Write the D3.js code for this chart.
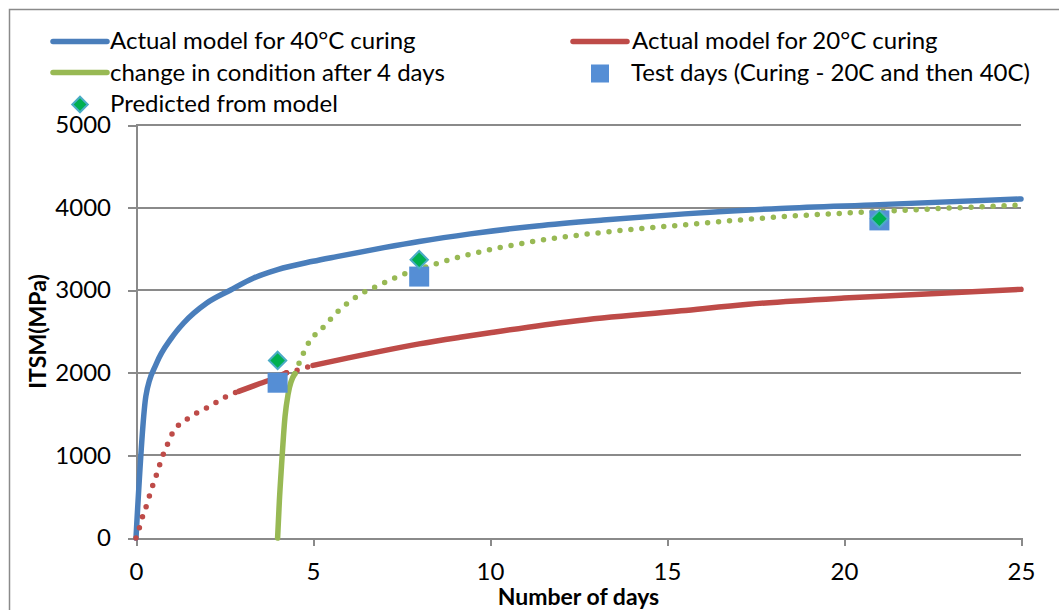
<!DOCTYPE html>
<html lang="en">
<head>
<meta charset="UTF-8">
<title>ITSM curing model</title>
<script src="https://cdn.jsdelivr.net/npm/d3@7"></script>
<style>
  body { margin: 0; background: #fff; }
  svg text { font-family: Lato, 'Open Sans', sans-serif; fill: #000; }
  .axis path, .axis line { stroke: #8a8a8a; stroke-width: 2; shape-rendering: crispEdges; }
  .axis text { font-size: 24px; }
  .grid line { stroke: #8a8a8a; stroke-width: 2; shape-rendering: crispEdges; }
</style>
</head>
<body>
<div id="chart"></div>
<script>
// model for 40°C curing [day, ITSM]
const blue40 = [
  [0, 0], [0.28, 1720], [0.58, 2115], [1, 2420], [1.34, 2600], [2, 2845],
  [2.66, 3000], [3.31, 3145], [4, 3250], [5, 3350], [5.67, 3407], [7, 3515],
  [8, 3590], [9.44, 3682], [11.32, 3778], [13.2, 3850], [15.5, 3924],
  [18.2, 3990], [21, 4036], [25, 4105]
];
// model for 20°C curing
const red20 = [
  [0, 0], [0.11, 145], [0.2, 280], [0.32, 420], [0.42, 570], [0.54, 715],
  [0.64, 850], [0.75, 990], [0.88, 1125], [1, 1245], [1.2, 1365], [1.5, 1455],
  [1.76, 1525], [2, 1575], [2.3, 1650], [2.6, 1725], [2.9, 1775], [3.5, 1870],
  [4, 1950], [4.25, 2000], [4.66, 2045], [5, 2090], [6, 2180], [6.9, 2260],
  [8, 2350], [9.15, 2430], [10, 2485], [12.35, 2625], [15.4, 2750],
  [17.3, 2830], [20, 2905], [21.6, 2940], [25, 3010]
];
// dotted and solid stretches of the 20°C line (days)
const redDotted = [[0, 2.9], [4.25, 5]];
const redSolid = [[2.9, 4.25], [5, 25]];
// change in condition after 4 days
const greenSolid = [
  [4, 0], [4.05, 450], [4.11, 870], [4.21, 1470], [4.3, 1750], [4.49, 1990]
];
const greenDotted = [
  [4.49, 1990], [4.63, 2140], [4.9, 2380], [5.24, 2530], [5.71, 2745],
  [6.28, 2935], [6.94, 3075], [7.65, 3208], [8.3, 3297], [9.44, 3435],
  [11.3, 3596], [13.2, 3701], [15.4, 3788], [18.2, 3888], [21.5, 3964],
  [24.7, 4025], [25, 4030]
];
const testDays = [[4, 1880], [8, 3165], [21, 3845]];
const predicted = [[4, 2150], [8, 3370], [21, 3865]];

const xTicks = [0, 5, 10, 15, 20, 25];
const yTicks = [0, 1000, 2000, 3000, 4000, 5000];

const width = 1059, height = 610;
const plotL = 136, plotR = 1021, plotT = 125, plotB = 538;

const svg = d3.select("#chart").append("svg")
  .attr("width", width).attr("height", height);

// outer frame
svg.append("rect")
  .attr("x", 9.5).attr("y", 9.5)
  .attr("width", width + 20).attr("height", height + 20)
  .attr("fill", "#fff").attr("stroke", "#8a8a8a").attr("stroke-width", 1.5);

const x = d3.scaleLinear().domain([0, 25]).range([plotL, plotR]);
const y = d3.scaleLinear().domain([0, 5000]).range([plotB, plotT]);

// horizontal gridlines
svg.append("g").attr("class", "grid")
  .selectAll("line").data(yTicks.slice(1)).enter().append("line")
  .attr("x1", plotL).attr("x2", plotR)
  .attr("y1", d => y(d)).attr("y2", d => y(d));

const xAxis = d3.axisBottom(x).tickValues(xTicks).tickSize(8).tickSizeOuter(0).tickPadding(17);
const yAxis = d3.axisLeft(y).tickValues(yTicks).tickFormat(d3.format("d"))
  .tickSize(8).tickSizeOuter(0).tickPadding(17);

svg.append("g").attr("class", "axis")
  .attr("transform", "translate(0," + plotB + ")")
  .call(xAxis);
svg.append("g").attr("class", "axis")
  .attr("transform", "translate(" + plotL + ",0)")
  .call(yAxis);

// axis titles
svg.append("text")
  .attr("x", (plotL + plotR) / 2).attr("y", 605)
  .attr("text-anchor", "middle")
  .style("font-size", "23px").style("font-weight", "bold")
  .text("Number of days");
svg.append("text")
  .attr("transform", "translate(46," + (plotT + plotB) / 2 + ") rotate(-90)")
  .attr("text-anchor", "middle")
  .style("font-size", "23px").style("font-weight", "bold")
  .text("ITSM(MPa)");

const line = d3.line()
  .x(d => x(d[0])).y(d => y(d[1]))
  .curve(d3.curveMonotoneX);

const colBlue = "#4a7ebb", colRed = "#be4b48", colGreen = "#98b954";

function solid(data, color) {
  svg.append("path").datum(data)
    .attr("d", line).attr("fill", "none")
    .attr("stroke", color).attr("stroke-width", 5.5)
    .attr("stroke-linejoin", "round").attr("stroke-linecap", "round");
}
function dotted(data, color) {
  svg.append("path").datum(data)
    .attr("d", line).attr("fill", "none")
    .attr("stroke", color).attr("stroke-width", 5.5)
    .attr("stroke-linecap", "round")
    .attr("stroke-dasharray", "0 11");
}

solid(blue40, colBlue);

// red: split into dotted and solid stretches
const inRange = (d, r) => d[0] >= r[0] && d[0] <= r[1];
redDotted.forEach(r => dotted(red20.filter(d => inRange(d, r)), colRed));
redSolid.forEach(r => solid(red20.filter(d => inRange(d, r)), colRed));

solid(greenSolid, colGreen);
dotted(greenDotted, colGreen);

// test day squares
svg.append("g").selectAll("rect").data(testDays).enter().append("rect")
  .attr("x", d => x(d[0]) - 10).attr("y", d => y(d[1]) - 10)
  .attr("width", 20).attr("height", 20)
  .attr("fill", "#558ed5");

// predicted diamonds
const diamond = d3.symbol().type(d3.symbolSquare).size(150);
svg.append("g").selectAll("path").data(predicted).enter().append("path")
  .attr("d", diamond)
  .attr("transform", d => "translate(" + x(d[0]) + "," + y(d[1]) + ") rotate(45)")
  .attr("fill", "#00b050").attr("stroke", "#4bacc6").attr("stroke-width", 2);

// legend
const lg = svg.append("g").style("font-size", "24px");
function legLine(x0, yy, color) {
  lg.append("line").attr("x1", x0).attr("x2", x0 + 54).attr("y1", yy).attr("y2", yy)
    .attr("stroke", color).attr("stroke-width", 5.5).attr("stroke-linecap", "round");
}
legLine(53, 41.5, colBlue);
lg.append("text").attr("x", 110).attr("y", 49).text("Actual model for 40°C curing");
legLine(573, 41.5, colRed);
lg.append("text").attr("x", 632).attr("y", 49).text("Actual model for 20°C curing");
legLine(53, 72.5, colGreen);
lg.append("text").attr("x", 110).attr("y", 80.5).text("change in condition after 4 days");
lg.append("rect").attr("x", 591).attr("y", 64.5).attr("width", 18).attr("height", 18).attr("fill", "#558ed5");
lg.append("text").attr("x", 631).attr("y", 80.5).text("Test days (Curing - 20C and then 40C)");
lg.append("path").attr("d", d3.symbol().type(d3.symbolSquare).size(120))
  .attr("transform", "translate(80,104.5) rotate(45)")
  .attr("fill", "#00b050").attr("stroke", "#4bacc6").attr("stroke-width", 2);
lg.append("text").attr("x", 110).attr("y", 112).text("Predicted from model");
</script>
</body>
</html>
